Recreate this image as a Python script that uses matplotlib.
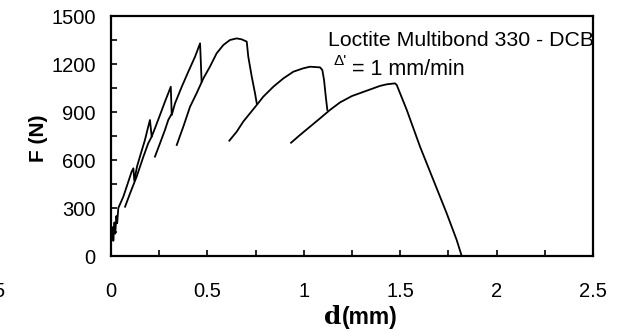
import matplotlib
matplotlib.use("Agg")
import matplotlib.pyplot as plt
from matplotlib.ticker import MultipleLocator

plt.rcParams['font.family'] = ['Liberation Sans', 'DejaVu Sans']

# Sawtooth envelope (first loading with successive crack jumps)
x_env = [0.0, 0.005, 0.009, 0.012, 0.018, 0.022, 0.028, 0.032, 0.038, 0.064, 0.090,
         0.107, 0.116, 0.121, 0.135, 0.150, 0.176, 0.193, 0.202, 0.211, 0.228, 0.254,
         0.280, 0.297, 0.310, 0.315, 0.332, 0.367, 0.401, 0.436, 0.462, 0.470]
y_env = [90, 110, 180, 95, 210, 140, 250, 205, 300, 371, 465,
         527, 548, 470, 560, 621, 725, 808, 850, 746, 798, 881,
         965, 1017, 1058, 881, 954, 1058, 1152, 1246, 1329, 1090]

# Reloading curve B
x_b = [0.073, 0.099, 0.133, 0.168, 0.193, 0.211]
y_b = [308, 392, 496, 621, 704, 746]

# Reloading curve C
x_c = [0.228, 0.254, 0.280, 0.297, 0.311]
y_c = [621, 704, 788, 850, 881]

# Reloading curve D
x_d = [0.341, 0.375, 0.410, 0.444, 0.479, 0.513, 0.548, 0.583, 0.617, 0.652,
       0.678, 0.704, 0.712, 0.730, 0.747, 0.756]
y_d = [694, 808, 933, 1017, 1110, 1183, 1267, 1319, 1350, 1360,
       1354, 1340, 1246, 1121, 1017, 954]

# Reloading curve E
x_e = [0.614, 0.652, 0.686, 0.721, 0.756, 0.790, 0.842, 0.894, 0.946, 0.997,
       1.032, 1.084, 1.096, 1.105, 1.114, 1.122]
y_e = [721, 777, 840, 892, 944, 996, 1058, 1110, 1152, 1173,
       1183, 1179, 1163, 1100, 996, 913]

# Reloading curve F
x_f = [0.934, 0.980, 1.032, 1.084, 1.136, 1.188, 1.250, 1.326, 1.395, 1.430,
       1.473, 1.482, 1.534, 1.603, 1.672, 1.741, 1.793, 1.819]
y_f = [708, 756, 808, 860, 913, 960, 1000, 1033, 1063, 1073,
       1079, 1069, 913, 683, 475, 267, 100, 0]

x_ticks = [0, 0.5, 1, 1.5, 2, 2.5]
x_ticklabels = ['0', '0.5', '1', '1.5', '2', '2.5']
y_ticks = [0, 300, 600, 900, 1200, 1500]
y_ticklabels = ['0', '300', '600', '900', '1200', '1500']

W, H = 619, 331
fig = plt.figure(figsize=(W / 100, H / 100), dpi=100)
ax = fig.add_axes([111 / W, 1 - 256 / H, (593 - 111) / W, (256 - 16) / H])

for xs, ys in [(x_env, y_env), (x_b, y_b), (x_c, y_c), (x_d, y_d), (x_e, y_e), (x_f, y_f)]:
    ax.plot(xs, ys, color='black', lw=1.3, solid_joinstyle='round')

ax.set_xlim(0, 2.5)
ax.set_ylim(0, 1500)
ax.set_xticks(x_ticks)
ax.set_xticklabels(x_ticklabels)
ax.set_yticks(y_ticks)
ax.set_yticklabels(y_ticklabels)
ax.xaxis.set_minor_locator(MultipleLocator(0.25))
ax.yaxis.set_minor_locator(MultipleLocator(150))
ax.tick_params(axis='both', which='both', direction='in', length=4, width=1.2,
               top=False, right=False, labelsize=14.5)
ax.tick_params(axis='x', which='major', pad=19)
ax.tick_params(axis='y', which='major', pad=11)
for s in ax.spines.values():
    s.set_linewidth(1.6)

# Annotation texts
fig.text(328 / W, 1 - 46 / H, 'Loctite Multibond 330 - DCB', fontsize=15.3, va='baseline', ha='left')
fig.text(334 / W, 1 - 65 / H, "Δ'", fontsize=11, va='baseline', ha='left')
fig.text(352 / W, 1 - 75 / H, '= 1 mm/min', fontsize=15.5, va='baseline', ha='left')

# Axis labels
fig.text(38 / W, 1 - 138 / H, 'F (N)', fontsize=15, fontweight='bold', rotation=90,
         ha='center', va='center')
fig.text(324 / W, 1 - 324 / H, 'd', fontsize=18, fontweight='bold', family='DejaVu Serif',
         ha='left', va='baseline')
fig.text(342 / W, 1 - 324 / H, '(mm)', fontsize=16.5, fontweight='bold', ha='left', va='baseline')

# clipped fragment at far left (as in the reference)
fig.text(-7 / W, 1 - 297 / H, '5', fontsize=14.5, ha='left', va='baseline')

fig.savefig('out.png', dpi=100)
